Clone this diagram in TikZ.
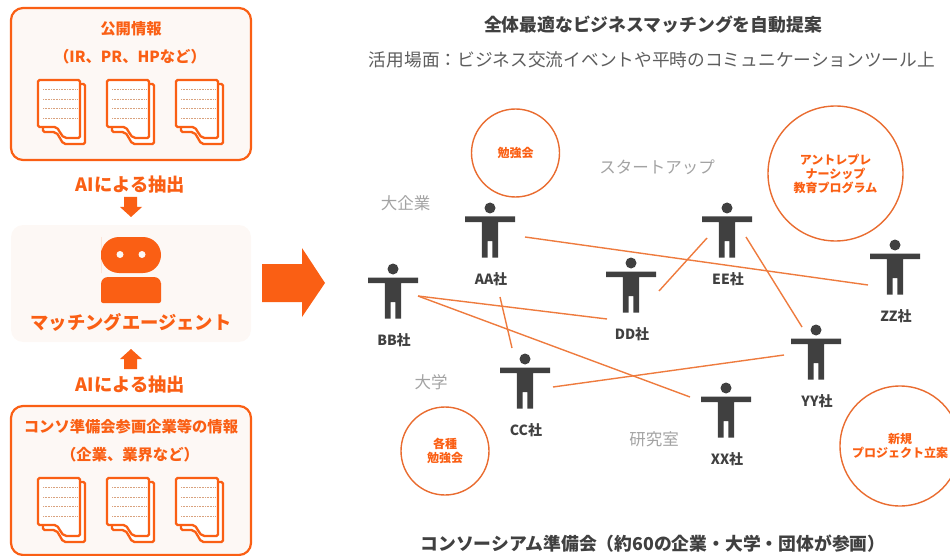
\documentclass[tikz,border=0pt]{standalone}
\usepackage{fontspec}
\setmainfont{Noto Sans CJK JP}
\usetikzlibrary{calc}
\definecolor{accent}{HTML}{FA5F14}
\definecolor{ringline}{HTML}{E96C30}
\definecolor{linkline}{HTML}{EE7B3E}
\definecolor{panelbg}{HTML}{FDF8F5}
\definecolor{figure}{HTML}{404040}
\definecolor{rule}{HTML}{D9A27E}
\tikzset{
  panel/.style={draw=accent, line width=2.2pt, fill=panelbg, rounded corners=12pt, minimum width=240pt, inner sep=0pt},
  head/.style={text=accent, font=\bfseries\fontsize{15.3}{15.3}\selectfont, inner sep=0pt},
  big/.style={text=accent, font=\bfseries\fontsize{18.3}{18.3}\selectfont, inner sep=0pt},
  title/.style={text=figure, font=\bfseries\fontsize{17.8}{17.8}\selectfont, inner sep=0pt},
  sector/.style={text=black!36, font=\fontsize{16.5}{16.5}\selectfont, inner sep=0pt},
  corp/.style={text=figure, font=\bfseries\fontsize{14}{14}\selectfont, inner sep=0pt},
  ring/.style={circle, draw=ringline, line width=1.4pt, inner sep=0pt, align=center, text=accent,
    font=\bfseries\fontsize{12}{14}\selectfont},
  link/.style={draw=linkline, line width=1.4pt},
  sheet/.pic={
    \draw[accent, line width=2.3pt, rounded corners=1.5pt, fill=white]
      (42,4) -- (47,4) -- (47,64) -- (29,64) .. controls (22,64) and (22,52) .. (14,52) -- (5,52) -- (5,44);
    \draw[accent, line width=2.3pt, rounded corners=1.5pt, fill=white]
      (0,0) -- (42,0) -- (42,58) -- (30,58) .. controls (22,58) and (22,47) .. (15,47) -- (0,47) -- cycle;
    \foreach \y in {9, 19, 28.5, 38}
      \draw[rule, line width=0.6pt, densely dotted] (5,\y) -- (39,\y);
  },
  person/.pic={
    \fill[figure] (0,0) circle (5.5);
    \fill[figure] (-25,8.5) -- (25,8.5) -- (25,14) -- (8.2,14) -- (8.2,49.5) -- (2.4,49.5) -- (2.4,33)
      -- (-2.4,33) -- (-2.4,49.5) -- (-8.2,49.5) -- (-8.2,14) -- (-25,14) -- cycle;
  }
}
\begin{document}
\begin{tikzpicture}[x=1pt, y=-1pt]
  \useasboundingbox (0,0) rectangle (950,556);
  % left column
  \node[panel, minimum height=152pt] (pubbox) at (131,84) {};
  \node[head] (pubtitle) at (131,29) {公開情報};
  \node[head] (pubsub) at (130,57) {（IR、PR、HPなど）};
  \node[big] (extractup) at (130.5,185) {AIによる抽出};
  \fill[accent] (124,197) -- (137,197) -- (137,207) -- (142,207) -- (131,217) -- (120,207) -- (124,207) -- cycle;
  \node[panel, draw=none, minimum height=117pt] (agentbox) at (131,283.5) {};
  \fill[accent] (101,255) [rounded corners=18pt] -- (101,237) -- (161,237) -- (161,273) -- (101,273) -- cycle;
  \fill[panelbg] (120,254.5) circle (3.5) (142,254.5) circle (3.5);
  \fill[accent] (101,290) [rounded corners=7pt] -- (101,277) -- (161,277) -- (161,290) [rounded corners=2pt] -- (161,303) -- (101,303) -- cycle;
  \node[big] (agentname) at (131,322) {マッチングエージェント};
  \fill[accent] (131,349) -- (142,359) -- (137,359) -- (137,369) -- (124,369) -- (124,359) -- (120,359) -- cycle;
  \node[big] (extractdown) at (130.5,385) {AIによる抽出};
  \node[panel, minimum height=149pt] (membox) at (131,480.5) {};
  \node[head] (memtitle) at (131,427) {コンソ準備会参画企業等の情報};
  \node[head] (memsub) at (130,455) {（企業、業界など）};
  \foreach \x in {38, 107, 176} {
    \pic at (\x,80) {sheet};
    \pic at (\x,478) {sheet};
  }
  \fill[accent] (262,264) -- (302,264) -- (302,248) -- (325,283) -- (302,317) -- (302,302) -- (262,302) -- cycle;
  % titles
  \node[title] (maintitle) at (653,25) {全体最適なビジネスマッチングを自動提案};
  \node[text=figure!85, font=\fontsize{17.7}{17.7}\selectfont, inner sep=0pt] (usage) at (652,60)
    {活用場面：ビジネス交流イベントや平時のコミュニケーションツール上};
  \node[title] (consortium) at (653,544) {コンソーシアム準備会（約60の企業・大学・団体が参画）};
  % sectors and activities
  \node[sector] (startup) at (657,167) {スタートアップ};
  \node[sector] (bigcorp) at (405.5,203) {大企業};
  \node[sector] (univ) at (431,382) {大学};
  \node[sector] (lab) at (654,439) {研究室};
  \node[ring, minimum size=88pt] (studyA) at (515.5,153) {勉強会};
  \node[ring, minimum size=135pt] (entre) at (835.5,173.5) {アントレプレ\\ナーシップ\\教育プログラム};
  \node[ring, minimum size=88pt] (studyB) at (445,451) {各種\\勉強会};
  \node[ring, minimum size=120pt] (newprj) at (900,446) {新規\\プロジェクト立案};
  % companies
  \foreach \nm/\x/\y in {AA/490/208, BB/393/269, CC/525/359, DD/631/263, EE/727/208, ZZ/895/245, YY/816/330, XX/726/388} {
    \coordinate (\nm) at (\x,\y);
    \pic at (\nm) {person};
    \node[corp] (\nm-name) at ($(\nm)+(1,71.5)$) {\nm 社};
  }
  % links
  \draw[link] ($(AA)+(35,29)$) -- ($(ZZ)+(-27,40)$);
  \draw[link] ($(BB)+(25,27)$) -- ($(DD)+(-24,56)$);
  \draw[link] ($(BB)+(25,27)$) -- ($(XX)+(-36,9)$);
  \draw[link] ($(AA)+(10,89)$) -- ($(CC)+(-13,-11)$);
  \draw[link] ($(DD)+(28,28)$) -- ($(EE)+(-20,30)$);
  \draw[link] ($(EE)+(19,29)$) -- ($(YY)+(-14,-3)$);
  \draw[link] ($(CC)+(28,28)$) -- ($(YY)+(-32,25)$);
\end{tikzpicture}
\end{document}
